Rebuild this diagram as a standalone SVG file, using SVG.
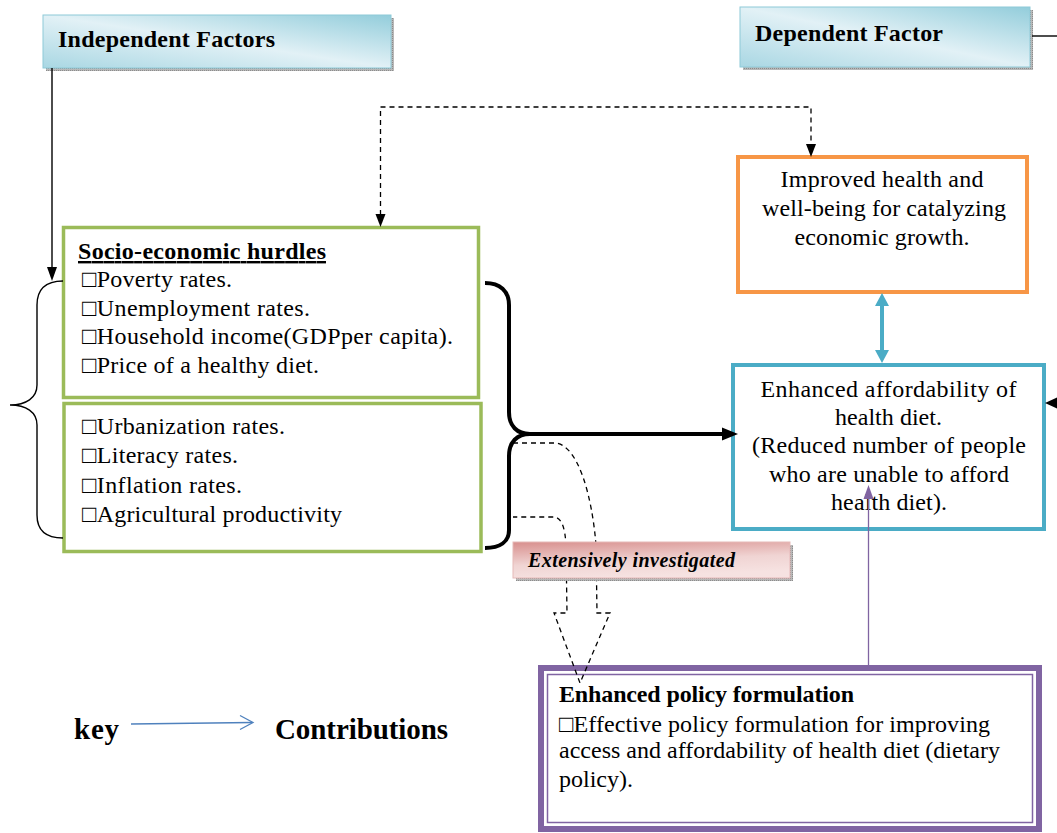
<svg xmlns="http://www.w3.org/2000/svg" width="1057" height="833" viewBox="0 0 1057 833" font-family="'Liberation Serif', serif">
<defs>
<linearGradient id="gBlue" x1="0" y1="1" x2="1" y2="0">
<stop offset="0" stop-color="#a9d7e3"/>
<stop offset="0.5" stop-color="#e2f1f6"/>
<stop offset="1" stop-color="#93cddb"/>
</linearGradient>
<linearGradient id="gPink" x1="0" y1="0" x2="0.3" y2="1">
<stop offset="0" stop-color="#d88f8d"/>
<stop offset="0.6" stop-color="#f0d4d3"/>
<stop offset="1" stop-color="#f6e2e1"/>
</linearGradient>
<pattern id="dots" width="2" height="2" patternUnits="userSpaceOnUse">
<rect width="2" height="2" fill="#b8b8b8"/>
<rect width="1" height="1" fill="#8c8c8c"/>
</pattern>
</defs>
<style>
text{font-family:'Liberation Serif',serif;fill:#000}
.body{font-size:24px}
.b{font-weight:bold}
.hdr{font-size:24px;font-weight:bold}
.hbox{fill:url(#gBlue);stroke:#8ecad8;stroke-width:1}
.shadow{fill:url(#dots)}
.green{fill:#fff;stroke:#9bbb59;stroke-width:3.5}
.thin{fill:none;stroke:#000;stroke-width:1.4}
.dash{fill:none;stroke:#000;stroke-width:1.3;stroke-dasharray:5 4}
</style>
<rect width="1057" height="833" fill="#fff"/>

<g id="n-independent">
<rect class="shadow" x="46" y="18" width="348" height="53"/>
<rect class="hbox" x="43" y="15" width="348" height="53"/>
<text class="hdr" x="58" y="47" textLength="217" lengthAdjust="spacing">Independent Factors</text>
</g>

<g id="n-dependent">
<rect class="shadow" x="743" y="10" width="290" height="60"/>
<rect class="hbox" x="740" y="7" width="290" height="60"/>
<text class="hdr" x="755" y="41" textLength="188" lengthAdjust="spacing">Dependent Factor</text>
</g>

<g id="n-socio">
<rect class="green" x="63.5" y="227.5" width="415" height="170"/>
<text class="body b" x="78" y="259" text-decoration="underline" textLength="248" lengthAdjust="spacing">Socio-economic hurdles</text>
<text class="body" x="82" y="287" textLength="150" lengthAdjust="spacing">□Poverty rates.</text>
<text class="body" x="82" y="316" textLength="228" lengthAdjust="spacing">□Unemployment rates.</text>
<text class="body" x="82" y="344" textLength="371" lengthAdjust="spacing">□Household income(GDPper capita).</text>
<text class="body" x="82" y="373" textLength="237" lengthAdjust="spacing">□Price of a healthy diet.</text>
</g>

<g id="n-socio2">
<rect class="green" x="64" y="403.5" width="417" height="148"/>
<text class="body" x="82" y="434" textLength="203" lengthAdjust="spacing">□Urbanization rates.</text>
<text class="body" x="82" y="463" textLength="156" lengthAdjust="spacing">□Literacy rates.</text>
<text class="body" x="82" y="493" textLength="160" lengthAdjust="spacing">□Inflation rates.</text>
<text class="body" x="82" y="522" textLength="260" lengthAdjust="spacing">□Agricultural productivity</text>
</g>

<g id="n-improved">
<rect x="738" y="157" width="289" height="135" fill="#fff" stroke="#f79646" stroke-width="4"/>
<text class="body" x="882" y="187" text-anchor="middle" textLength="203" lengthAdjust="spacing">Improved health and</text>
<text class="body" x="884" y="216" text-anchor="middle" textLength="244" lengthAdjust="spacing">well-being for catalyzing</text>
<text class="body" x="882" y="245" text-anchor="middle" textLength="175" lengthAdjust="spacing">economic growth.</text>
</g>

<g id="n-enhanced">
<rect x="733" y="365" width="311" height="164" fill="#fff" stroke="#4bacc6" stroke-width="4"/>
<text class="body" x="888.5" y="397" text-anchor="middle" textLength="256" lengthAdjust="spacing">Enhanced affordability of</text>
<text class="body" x="888.5" y="425" text-anchor="middle" textLength="107" lengthAdjust="spacing">health diet.</text>
<text class="body" x="889" y="453" text-anchor="middle" textLength="274" lengthAdjust="spacing">(Reduced number of people</text>
<text class="body" x="889" y="482" text-anchor="middle" textLength="240" lengthAdjust="spacing">who are unable to afford</text>
<text class="body" x="889" y="510" text-anchor="middle" textLength="116" lengthAdjust="spacing">health diet).</text>
</g>

<g id="n-policy">
<rect x="541" y="668" width="498" height="161" fill="#fff" stroke="#8064a2" stroke-width="6"/>
<rect x="547.5" y="674.5" width="485" height="148" fill="none" stroke="#8064a2" stroke-width="1.5"/>
<text class="body b" x="559" y="702" textLength="295" lengthAdjust="spacing">Enhanced policy formulation</text>
<text class="body" x="559" y="732" textLength="431" lengthAdjust="spacing">□Effective policy formulation for improving</text>
<text class="body" x="559" y="758" textLength="441" lengthAdjust="spacing">access and affordability of health diet (dietary</text>
<text class="body" x="559" y="787">policy).</text>
</g>

<g id="n-key">
<text x="74" y="739" font-size="29" font-weight="bold" textLength="45" lengthAdjust="spacing">key</text>
<line x1="131" y1="724" x2="252" y2="722.5" stroke="#4f81bd" stroke-width="1.3"/>
<polyline points="240,715.5 253,722.5 240,729.5" fill="none" stroke="#4f81bd" stroke-width="1.3"/>
<text x="275" y="739" font-size="29" font-weight="bold" textLength="173" lengthAdjust="spacing">Contributions</text>
</g>

<g id="connectors">
<line class="thin" x1="52" y1="68" x2="52" y2="268"/>
<polygon points="52,281 47,267 57,267" fill="#000"/>
<path class="thin" d="M63,281 C45,281 37,290 37,305 L37,385 C37,398 26,405 10,405 C26,405 37,412 37,425 L37,515 C37,530 45,538 63,538"/>
<line class="thin" x1="1032" y1="36" x2="1057" y2="36"/>
<polygon points="1045,403 1057,397.5 1057,408.5" fill="#000"/>
<path class="dash" d="M380.5,215 L380.5,107 L811,107 L811,145"/>
<polygon points="380.5,227 375.5,214 385.5,214" fill="#000"/>
<polygon points="811,157 806,144 816,144" fill="#000"/>
<path d="M485,283 C500,283 509,291 509,305 L509,412 C509,426 517,434 530,434 C517,434 509,442 509,456 L509,530 C509,542 500,548 485,548" fill="none" stroke="#000" stroke-width="4"/>
<line x1="528" y1="434" x2="725" y2="434" stroke="#000" stroke-width="4"/>
<polygon points="738,434 722,427.5 722,440.5" fill="#000"/>
<line x1="882" y1="304" x2="882" y2="352" stroke="#4bacc6" stroke-width="4"/>
<polygon points="882,293 875,306 889,306" fill="#4bacc6"/>
<polygon points="882,363 875,350 889,350" fill="#4bacc6"/>
<line x1="868.5" y1="665" x2="868.5" y2="497" stroke="#8064a2" stroke-width="1.3"/>
<polygon points="868.5,485 863.5,499 873.5,499" fill="#8064a2"/>
<path class="dash" d="M513,443 L556,443 C578,446 592,495 596,545 L597,613 L610,613 L580,683 L554,613 L567,613 L566,545 C565,528 562,519 555,517 L513,517"/>
</g>

<g id="n-extensive">
<rect class="shadow" x="516" y="545" width="277" height="36"/>
<rect x="513" y="542" width="277" height="36" fill="url(#gPink)" stroke="#e6b9b8" stroke-width="1"/>
<text x="528" y="567" font-size="20" font-weight="bold" font-style="italic" textLength="207" lengthAdjust="spacing">Extensively investigated</text>
</g>
</svg>
